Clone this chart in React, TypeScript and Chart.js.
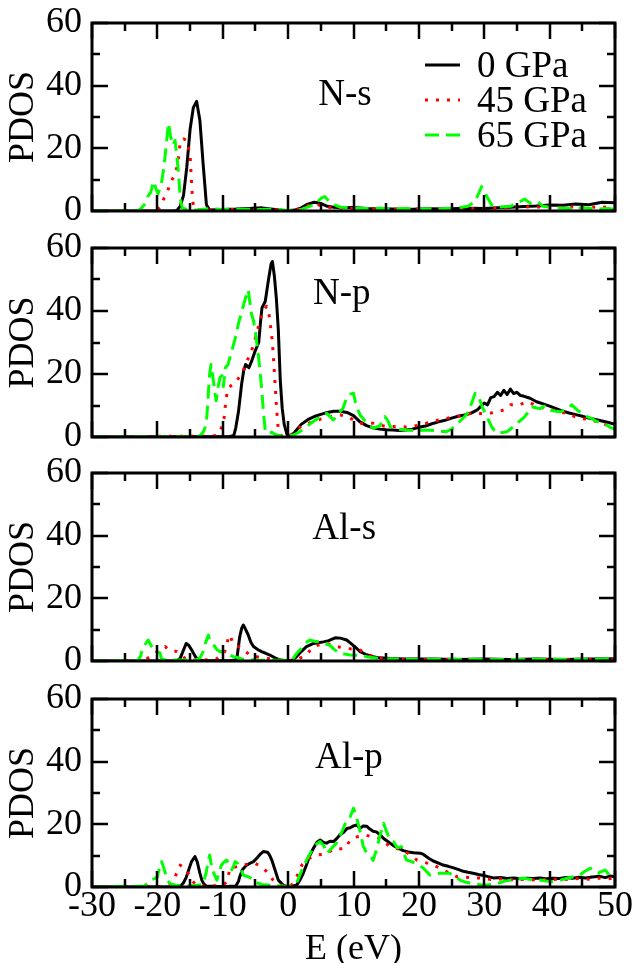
import React, { useEffect, useRef } from 'react';
import { Chart, registerables } from 'chart.js';

Chart.register(...registerables);

type Pt = [number, number];

// ---------------- data ----------------
const PRESSURES = ['0 GPa', '45 GPa', '65 GPa'];
const PANEL_NAMES = ['N-s', 'N-p', 'Al-s', 'Al-p'];
const X_TICK_MIN = -30;
const X_TICK_MAX = 50;
const X_TICK_STEP = 10;
const Y_TICK_MIN = 0;
const Y_TICK_MAX = 60;
const Y_TICK_STEP = 20;
const X_TITLE = 'E (eV)';
const Y_TITLE = 'PDOS';

// N-s
const NS_0GPA: Pt[] = [[-30,0],[-17.5,0],[-17,0.2],[-16.5,1.5],[-16,5],[-15.5,14],[-15,26],[-14.5,33],[-14,35],[-13.5,29],[-13,15],[-12.5,2],[-12,0.3],[-10,0.5],[-8,0.6],[-6,0.8],[-4,1],[-2,0.5],[0,0],[1,0.3],[2,1],[3,2.2],[4,2.8],[5,2.4],[6,1.5],[7,1.2],[8,1.0],[10,1.1],[12,0.8],[14,0.7],[16,0.6],[18,0.5],[20,0.6],[22,0.7],[24,0.6],[26,0.8],[28,0.9],[30,0.8],[32,1.0],[34,1.2],[36,1.4],[38,1.6],[40,1.9],[42,1.8],[44,2.2],[46,2.0],[48,2.8],[50,2.6]];
const NS_45GPA: Pt[] = [[-30,0],[-20.5,0],[-20,0.3],[-19.5,1.5],[-19,4],[-18.5,6],[-18,9],[-17.5,11],[-17,14],[-16.7,18],[-16.5,22.5],[-16,23],[-15.5,22.5],[-15,18],[-14.8,10],[-14.6,3],[-14.3,0.5],[-13,0.2],[-10,0.5],[-6,0.5],[-2,0.4],[0,0],[2,0.8],[3,1.8],[4,2.2],[5,1.8],[6,1.2],[8,0.9],[10,0.8],[14,0.7],[18,0.6],[22,0.7],[26,0.6],[29,0.8],[32,0.9],[35,1.1],[37,1.4],[40,1.1],[44,1.3],[48,1.2],[50,1.5]];
const NS_65GPA: Pt[] = [[-30,0],[-23,0],[-22.5,0.8],[-22,2],[-21.5,4.5],[-21,6],[-20.6,9.5],[-20.2,7],[-19.9,5.5],[-19.4,8.5],[-19,14],[-18.8,18],[-18.3,28],[-18,24],[-17.6,21],[-17.3,22.5],[-17,17],[-16.8,13],[-16.5,4],[-16.2,1],[-15.5,0.5],[-14,0.3],[-12,0.8],[-10,0.5],[-8,0.6],[-5,0.5],[-2,0.6],[0,0.2],[2,0.5],[4,2],[5,4],[5.6,4.6],[6.5,2.5],[8,1.2],[10,1.0],[12,0.8],[14,0.9],[16,0.7],[18,0.8],[20,0.6],[22,0.7],[24,0.8],[26,1.0],[27.5,1.5],[28.6,3],[29.6,7.8],[30.3,5],[31.1,2],[32,1.2],[34,1.5],[35,2.5],[36.2,3.8],[37,2.5],[38.2,3],[39,1.5],[41,1],[43,0.8],[45,1.0],[47,0.6],[49,0.8],[50,0.5]];

// N-p
const NP_0GPA: Pt[] = [[-30,0],[-18,0.1],[-12,0.1],[-9,0.1],[-8.3,0.5],[-8,3],[-7.6,8],[-7.1,17],[-6.8,21],[-6.5,23],[-6,22],[-5.6,24],[-5.1,27],[-4.8,28.5],[-4.5,30],[-4.2,37],[-4,41],[-3.5,43],[-3,50],[-2.6,55],[-2.4,55.7],[-2.1,51],[-1.8,44],[-1.5,34],[-1.2,18],[-0.9,9],[-0.6,4],[-0.2,1],[0,0.2],[0.5,0.5],[1,1.5],[2,4],[3,5.5],[4,6.5],[5,7.2],[6,7.8],[7,8.2],[8,8.2],[9,7.8],[10,6.8],[11,4.8],[12,3.6],[13,2.9],[14,2.5],[15,2.3],[16,2.2],[17,2.1],[18,2.2],[19,2.5],[20,3.1],[21,3.5],[22,4.2],[23,4.8],[24,5.3],[25,6.0],[26,6.6],[27,7.0],[28,7.6],[29,8.7],[29.5,9.8],[30,10.8],[30.5,10.2],[31,12.5],[31.5,12.8],[32,14.2],[32.5,13.2],[33,14.8],[33.5,13.5],[34,15.2],[34.5,13.8],[35,14.2],[35.5,13.2],[36,13],[37,12.3],[38,11.2],[39,10.5],[40,9.8],[41,9],[42,8.2],[43,7.6],[44,7.1],[45,6.6],[46,6.0],[47,5.6],[48,5.1],[49,4.6],[50,4.0]];
const NP_45GPA: Pt[] = [[-30,0],[-20,0.2],[-12,0.2],[-11,0.5],[-10.5,1.5],[-10,4],[-9.8,6],[-9.5,12],[-9.2,15.5],[-8.6,16.5],[-8.1,17],[-7.5,19],[-7,20.5],[-6.5,23],[-6,25.5],[-5.5,28],[-5.2,30],[-4.8,33],[-4.3,37],[-3.8,40],[-3.3,41.5],[-3,40],[-2.8,37],[-2.5,32],[-2.3,27],[-2,17],[-1.75,8.6],[-1.5,2.2],[-1,0.3],[0,0.1],[1,1.5],[2,3.5],[3,4.3],[4,5],[5,5.7],[6,6.2],[7,6.8],[8,7],[9,6.6],[10,5.4],[11,4.4],[12,4.3],[13,4.4],[14,3.8],[15,3.3],[16,3.3],[17,3.4],[18,3.2],[19,3.3],[20,3.8],[21,4.3],[22,4.8],[23,5.4],[24,5.8],[25,6.3],[26,6.6],[27,7],[28,7.5],[29,7.6],[30,7.3],[31,7.6],[32,8],[33,8.6],[34,10.2],[35,10.3],[35.5,10.2],[36,10.8],[36.7,11.2],[37.5,10.4],[38,9.6],[39,9.2],[40,8.8],[41,8.4],[42,7.8],[43,7.3],[44,6.3],[45,5.8],[46,5.6],[47,5.0],[48,4.4],[49,3.6],[50,3]];
const NP_65GPA: Pt[] = [[-30,0],[-14,0.1],[-13.5,0.4],[-13,1.5],[-12.7,3],[-12.45,6],[-12.2,14],[-12,20],[-11.8,23],[-11.5,19],[-11.2,14],[-11,11.5],[-10.7,16],[-10.4,19],[-10.1,19.5],[-9.9,16],[-9.6,22],[-9.2,23],[-8.8,26],[-8.4,29],[-8.0,32],[-7.6,36],[-7.2,39],[-6.8,42],[-6.4,45],[-6.1,46.7],[-5.8,42],[-5.6,39],[-5.3,37],[-5.0,33],[-4.8,30],[-4.5,25],[-4.3,21],[-4.0,14],[-3.8,8.6],[-3.5,2],[-3.0,1],[-2.5,1.5],[-2,0.8],[-1,0.3],[0,0.1],[1,0.8],[2,2],[3,3.6],[3.85,4.9],[5,6.5],[5.9,7.5],[6.5,6.3],[6.9,5.4],[7.5,7],[8.4,9.1],[9,12.8],[9.5,13.6],[10,13.9],[10.3,11],[10.7,8.5],[11,7],[12,4.5],[13,2.8],[14,3.5],[14.8,6.5],[15.3,5],[15.6,3.3],[16.5,2.6],[18,2.2],[19.5,2.0],[21,2.2],[22.5,2.0],[24.2,1.7],[25,2.5],[26,4.4],[27,6.5],[27.6,8],[28.2,11.5],[28.6,13.9],[29.1,13],[29.7,9.5],[30.4,6.5],[31.2,3],[31.9,1.2],[33,1.5],[33.5,1.7],[34.3,3],[35,4.3],[36.2,6.5],[37.3,9.6],[38,9.2],[38.5,9],[39.2,9.8],[39.8,8.6],[41,8.2],[41.6,8],[42.6,8.8],[43.4,10.2],[44.2,8.6],[45,7.5],[45.7,6.5],[46.5,5.8],[47.2,4.9],[48,4.5],[48.7,3.8],[49.5,2.8],[50,2.5]];

// Al-s
const ALS_0GPA: Pt[] = [[-30,0],[-17,0],[-16.5,0.9],[-16,3.5],[-15.6,5.6],[-15.2,5],[-14.75,3.5],[-14.3,1.8],[-13.9,0.5],[-13,0.1],[-9,0.1],[-8,0.3],[-7.8,1.4],[-7.4,7.8],[-7.1,10.5],[-6.85,11.5],[-6.6,10.5],[-6.1,8.3],[-5.7,6],[-5.3,4.6],[-4.6,3.6],[-4.05,3],[-3.4,2.4],[-2.8,1.9],[-2,1],[-1.2,0.3],[0,0],[0.7,0.3],[1.3,1.4],[2,3],[2.8,4.6],[3.9,5.6],[4.6,5.8],[5.4,6.1],[6.2,6.5],[7.2,7.4],[8,7.3],[8.95,6.7],[9.5,5.8],[10.5,4],[11,3],[12,2],[13,1.4],[14,1],[15.6,0.8],[18,0.6],[22,0.6],[26,0.5],[30,0.6],[34,0.5],[38,0.6],[42,0.5],[46,0.6],[50,0.7]];
const ALS_45GPA: Pt[] = [[-30,0],[-22,0.2],[-21.1,1.4],[-20,3],[-19.3,4.2],[-18.8,4.6],[-18.3,3.6],[-17.5,3.2],[-17,3],[-16.4,2.2],[-15.8,0.9],[-15,0.4],[-13,0.3],[-11,0.6],[-10,2],[-9.7,3],[-9.3,6],[-9.1,7.8],[-8.9,8.3],[-8.5,6],[-8,4.8],[-7.6,4.6],[-7,4.2],[-6.5,3],[-5.8,1.9],[-4.5,1.2],[-3.5,0.9],[-2,0.5],[0,0.1],[1.5,0.6],[2.8,1.9],[3.4,3.5],[3.9,4.6],[5,5.3],[5.9,5.6],[6.6,5.2],[7.4,4.6],[9,4],[10,3.8],[11,3.5],[12,2.2],[13,1.4],[14,0.9],[16,0.6],[20,0.5],[25,0.5],[30,0.5],[35,0.4],[40,0.5],[45,0.5],[50,0.4]];
const ALS_65GPA: Pt[] = [[-30,0],[-23,0.2],[-22.6,1.4],[-22.3,3.5],[-22.1,4.6],[-21.8,5.5],[-21.4,6.7],[-21,5],[-20.6,4.2],[-20.1,3],[-19.6,2.6],[-19.4,0.8],[-19,0.4],[-16,0.3],[-14,0.4],[-13.5,0.9],[-13,3],[-12.6,6],[-12.2,8.3],[-12,6.7],[-11.6,5.5],[-11.2,4.6],[-10.9,3.6],[-10.4,3],[-9.8,2.8],[-9.2,2.2],[-8.4,1.4],[-7.9,1.2],[-7,0.6],[-5,0.3],[-2,0.2],[0,0.2],[0.7,0.6],[1.3,2.4],[2,4],[2.6,5.6],[3.3,6.7],[4,6.3],[4.9,6.1],[5.6,5.6],[6.4,5],[7,3.8],[7.9,2.4],[8.7,2.2],[9.5,1.9],[10.5,1.8],[11.5,1.6],[12.5,1.2],[14,0.8],[17,0.6],[20,0.5],[25,0.6],[30,0.5],[35,0.5],[40,0.6],[45,0.5],[48,0.6],[50,1.0]];

// Al-p
const ALP_0GPA: Pt[] = [[-30,0],[-17,0],[-16.5,0.3],[-16.05,1.2],[-15.6,3],[-15.3,4.9],[-14.8,8],[-14.25,9.7],[-13.9,8],[-13.5,4.4],[-13.2,2.2],[-12.9,1],[-12.5,0.3],[-10,0.1],[-8,0.3],[-7.6,1.8],[-7.4,3.3],[-7,5.5],[-6.35,7],[-5.8,7.6],[-5.3,8.1],[-4.8,9.2],[-4.3,10.4],[-3.8,11.3],[-3.4,11.2],[-3.1,11],[-2.8,10],[-2.5,8.6],[-2,5.4],[-1.5,2.2],[-0.7,0.5],[0,0.1],[0.7,0.3],[1.3,0.6],[1.8,2.2],[2.3,4.3],[2.8,7],[3.35,10.2],[3.85,12.3],[4.4,14.3],[4.9,15],[5.4,14.2],[5.9,14],[6.4,14.6],[6.95,14.5],[7.5,15.6],[7.9,16.6],[8.5,17.5],[9,18.7],[9.5,18.9],[10,19.5],[10.5,19.8],[11,18.7],[11.5,19.5],[12,19.4],[12.5,18.5],[13,17.8],[13.5,17.6],[14.1,16.6],[14.6,15.5],[15.2,14.6],[16.1,13.2],[16.8,12.5],[17.6,11.6],[18.4,11.2],[19.2,10.9],[20.2,10.8],[20.7,10.4],[21.5,9.2],[22.2,8.3],[23,7.6],[23.7,7.0],[24.5,6.6],[25.3,6.1],[26,5.6],[26.8,5.0],[27.5,4.7],[28.3,4.4],[29.1,4.0],[29.9,3.7],[30.6,3.3],[31.4,2.9],[32.5,3.0],[33.5,2.7],[34.5,2.9],[35.5,2.6],[36.5,2.8],[37.5,2.7],[38.5,2.9],[39.5,2.6],[40.5,2.8],[41.5,2.7],[42.5,3.0],[43.5,2.8],[44.5,3.1],[45.5,2.9],[46.5,3.2],[47.7,3.4],[48.5,3.0],[49.3,3.5],[50,3.3]];
const ALP_45GPA: Pt[] = [[-30,0],[-19,0.1],[-18.2,0.8],[-17.6,2.2],[-17,4.5],[-16.5,7],[-16,6.2],[-15.3,4.4],[-14.8,2.5],[-14.2,0.8],[-13,0.3],[-10.5,0.4],[-9.8,0.8],[-9.4,1.7],[-9.1,4],[-8.9,6],[-8.4,6.2],[-7.8,6.5],[-7,7],[-6.2,7.3],[-5.6,7.6],[-5,7.5],[-4.4,6.8],[-3.8,6],[-3.1,4.5],[-2.3,2.2],[-1.5,0.8],[-0.5,0.2],[0,0.1],[0.5,0.6],[1.05,2.2],[1.6,4.5],[2.1,7],[2.8,8.5],[3.6,9.6],[4.4,10.2],[5.2,10.4],[5.9,10.7],[6.5,11.5],[7.2,12.3],[8,12.2],[8.7,12.3],[9.5,15],[10.5,16],[11.2,16.3],[11.8,16.6],[12.5,16.2],[13.3,15.8],[14.1,15.5],[14.8,14.2],[15.6,12.9],[16.6,12.3],[17.6,11.8],[18.6,10.3],[19.7,8.6],[21,7.8],[22.2,7],[23,6.2],[23.7,5.4],[24.8,4.3],[25.8,3.3],[26.8,3.2],[28,3.0],[29.9,2.8],[31,2.4],[32.5,2.6],[34,2.3],[35.5,2.5],[37,2.2],[38.5,2.5],[40,2.3],[41.5,2.5],[43,2.4],[44.5,2.7],[46,2.5],[47.5,2.8],[49,2.6],[50,3.0]];
const ALP_65GPA: Pt[] = [[-30,0],[-22,0.3],[-21.5,1.2],[-21.1,2.2],[-20.5,2.6],[-20,3.2],[-19.7,6],[-19.35,8.1],[-19,6],[-18.8,4.4],[-18.5,2.2],[-18,1],[-17,0.5],[-15,0.3],[-13,0.8],[-12.5,5],[-12.2,8.5],[-12,10.2],[-11.7,6.5],[-11.3,4],[-10.9,2.2],[-10.5,5],[-10.2,7],[-9.8,8],[-9.4,8.6],[-9,7],[-8.6,5.5],[-8.3,7],[-8.1,8.1],[-7.7,7.5],[-7.4,6.5],[-6.85,3.8],[-6,3.2],[-5.2,2.2],[-5,1.5],[-4,0.8],[-2,0.4],[0,0.2],[0.7,0.5],[1.3,1.2],[2.1,5.4],[3.1,9.7],[4.1,13.4],[4.9,14.5],[5.5,13],[5.9,10.7],[6.4,11.8],[7.4,14],[7.9,16],[8.5,19],[9,21.6],[9.5,22.4],[10,25.1],[10.3,23.5],[10.7,20.3],[11.1,17],[11.5,12.9],[12,11],[12.5,10.2],[13,8.5],[13.5,11.8],[14,16],[14.6,20.3],[15.1,17.5],[15.6,15],[16.1,14.5],[16.7,12.5],[17.3,12.9],[18.1,8.6],[18.9,8.1],[20,7],[20.7,6],[21.7,3.8],[23.2,4.4],[24.7,4.4],[26.3,2.2],[27.2,1.5],[28.5,1],[29.9,0.6],[31,0.8],[31.9,1],[33,1.8],[34,2.2],[35,2.6],[36,2.8],[37.2,2.4],[38.5,2.2],[39.5,1.9],[40.6,1.7],[41.6,2.2],[42.7,2.8],[43.7,3.3],[44.6,3.8],[45.4,5],[46.2,6],[46.8,5.2],[47.4,4.4],[48,5],[48.5,5.4],[49,4.2],[49.5,3.3],[50,3]];

const PANEL_SERIES: Pt[][][] = [
  [NS_0GPA, NS_45GPA, NS_65GPA],
  [NP_0GPA, NP_45GPA, NP_65GPA],
  [ALS_0GPA, ALS_45GPA, ALS_65GPA],
  [ALP_0GPA, ALP_45GPA, ALP_65GPA],
];
// panel label anchors in data coordinates (E, PDOS)
const LABEL_ANCHORS: Pt[] = [[4.6, 37.1], [3.8, 45.6], [3.7, 42.5], [4.1, 41.5]];

// ---------------- layout & style ----------------
const W = 635;
const PANEL_TOPS = [23, 248, 473, 699];
const PANEL_HEIGHTS = [188, 189, 188, 188];
const PAD_TOP = 28;
const AXIS_LEFT = 92;
const PAD_RIGHT = 20;
const BOTTOM_AXIS_H = 76;
const TOTAL_H = 963;
const FONT_FAMILY = "'Liberation Serif', 'Times New Roman', Times, serif";
const TICK_SIZE = 36;
const TITLE_SIZE = 36;
const TEXT_SIZE = 37;
const SERIES_STYLES = [
  { color: '#000000', dash: [] as number[], order: 3 },
  { color: '#ff0000', dash: [3, 8], order: 2 },
  { color: '#00ff00', dash: [14, 7], order: 1 },
];

const framePlugin = {
  id: 'frameTicks',
  afterDatasetsDraw(chart: any) {
    const { ctx, chartArea: a, scales } = chart;
    const xs = scales.x;
    const ys = scales.y;
    ctx.save();
    ctx.strokeStyle = '#000';
    ctx.lineWidth = 2.5;
    ctx.setLineDash([]);
    ctx.beginPath();
    for (let v = X_TICK_MIN; v <= X_TICK_MAX; v += X_TICK_STEP / 2) {
      const px = Math.round(xs.getPixelForValue(v));
      const len = Math.abs(v % X_TICK_STEP) < 1e-9 ? 16 : 8;
      ctx.moveTo(px, a.bottom);
      ctx.lineTo(px, a.bottom - len);
      ctx.moveTo(px, a.top);
      ctx.lineTo(px, a.top + len);
    }
    for (let v = Y_TICK_MIN; v <= Y_TICK_MAX; v += Y_TICK_STEP / 2) {
      const py = Math.round(ys.getPixelForValue(v));
      const len = Math.abs(v % Y_TICK_STEP) < 1e-9 ? 16 : 8;
      ctx.moveTo(a.left, py);
      ctx.lineTo(a.left + len, py);
      ctx.moveTo(a.right, py);
      ctx.lineTo(a.right - len, py);
    }
    ctx.stroke();
    ctx.lineWidth = 3;
    ctx.strokeRect(a.left, a.top, a.right - a.left, a.bottom - a.top);
    ctx.restore();
  },
};

const textPlugin = {
  id: 'panelText',
  afterDraw(chart: any, _args: any, opts: any) {
    const { ctx, chartArea: a, scales } = chart;
    ctx.save();
    ctx.fillStyle = '#000';
    ctx.font = `${TEXT_SIZE}px ${FONT_FAMILY}`;
    ctx.textBaseline = 'middle';
    ctx.textAlign = 'left';
    const [lx, ly] = opts.anchor as Pt;
    ctx.fillText(opts.label, scales.x.getPixelForValue(lx), scales.y.getPixelForValue(ly) + 1);
    if (opts.legend) {
      const x0 = a.left + 333;
      chart.data.datasets.forEach((ds: any, i: number) => {
        const y = a.top + 42 + i * 35;
        ctx.save();
        ctx.strokeStyle = ds.borderColor;
        ctx.lineWidth = 3;
        ctx.setLineDash(ds.borderDash || []);
        ctx.beginPath();
        ctx.moveTo(x0, y);
        ctx.lineTo(x0 + 35, y);
        ctx.stroke();
        ctx.restore();
        ctx.fillText(ds.label, x0 + 52, y + 2);
      });
    }
    ctx.restore();
  },
};

function Panel({ index }: { index: number }) {
  const ref = useRef<HTMLCanvasElement | null>(null);
  const isBottom = index === PANEL_NAMES.length - 1;
  const top = PANEL_TOPS[index] - PAD_TOP;
  const height = isBottom ? TOTAL_H - top : PANEL_HEIGHTS[index] + 2 * PAD_TOP;

  useEffect(() => {
    if (!ref.current) return;
    const tickFont = { family: FONT_FAMILY, size: TICK_SIZE, lineHeight: 1 };
    const titleFont = { family: FONT_FAMILY, size: TITLE_SIZE, lineHeight: 1 };
    const chart = new Chart(ref.current, {
      type: 'line',
      data: {
        datasets: PANEL_SERIES[index].map((pts, i) => ({
          label: PRESSURES[i],
          data: pts.map(([x, y]) => ({ x, y })),
          borderColor: SERIES_STYLES[i].color,
          backgroundColor: SERIES_STYLES[i].color,
          borderDash: SERIES_STYLES[i].dash,
          borderWidth: 3,
          borderJoinStyle: 'round',
          pointRadius: 0,
          tension: 0,
          fill: false,
          order: SERIES_STYLES[i].order,
        })),
      },
      options: {
        animation: false,
        responsive: false,
        maintainAspectRatio: false,
        events: [],
        layout: { padding: { top: PAD_TOP, right: PAD_RIGHT, left: 0, bottom: 0 } },
        plugins: {
          legend: { display: false },
          tooltip: { enabled: false },
          panelText: { label: PANEL_NAMES[index], anchor: LABEL_ANCHORS[index], legend: index === 0 },
        } as any,
        scales: {
          x: {
            type: 'linear',
            min: X_TICK_MIN,
            max: X_TICK_MAX,
            grid: { display: false, drawTicks: false, tickLength: 0 },
            border: { display: false },
            ticks: {
              display: isBottom,
              stepSize: X_TICK_STEP,
              autoSkip: false,
              maxRotation: 0,
              color: '#000',
              font: tickFont,
              padding: 2,
            },
            title: {
              display: isBottom,
              text: X_TITLE,
              color: '#000',
              font: titleFont,
              padding: { top: 0, bottom: -5 },
            },
            afterFit: (s: any) => {
              s.height = isBottom ? BOTTOM_AXIS_H : PAD_TOP;
            },
          },
          y: {
            type: 'linear',
            min: Y_TICK_MIN,
            max: Y_TICK_MAX,
            grid: { display: false, drawTicks: false, tickLength: 0 },
            border: { display: false },
            ticks: {
              stepSize: Y_TICK_STEP,
              color: '#000',
              font: tickFont,
              padding: 10,
            },
            title: {
              display: true,
              text: Y_TITLE,
              color: '#000',
              font: titleFont,
              padding: { top: 6, bottom: 0 },
            },
            afterFit: (s: any) => {
              s.width = AXIS_LEFT;
            },
          },
        },
      } as any,
      plugins: [framePlugin, textPlugin],
    });
    return () => chart.destroy();
  }, [index]);

  return (
    <canvas
      ref={ref}
      width={W}
      height={height}
      style={{ position: 'absolute', left: 0, top, width: W, height, display: 'block' }}
    />
  );
}

export default function App() {
  return (
    <div
      style={{
        position: 'absolute',
        left: 0,
        top: 0,
        width: W,
        height: TOTAL_H,
        overflow: 'hidden',
        background: '#fff',
      }}
    >
      {PANEL_NAMES.map((_, i) => (
        <Panel key={i} index={i} />
      ))}
    </div>
  );
}
